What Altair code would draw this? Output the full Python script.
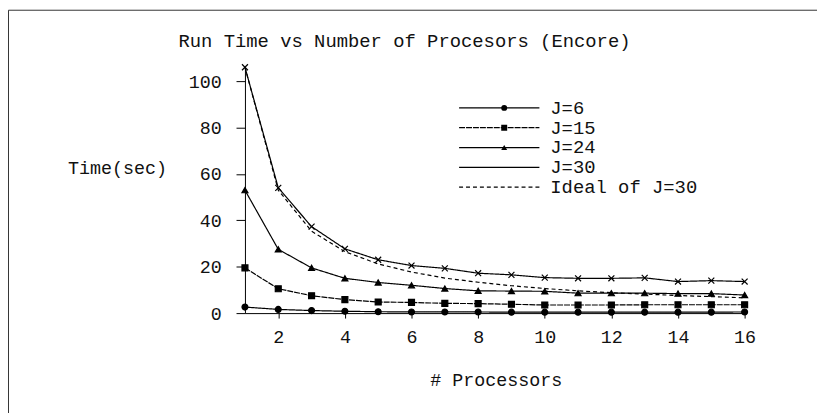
import altair as alt
import pandas as pd

# ---- data ----
processors = list(range(1, 17))
series_names = ["J=6", "J=15", "J=24", "J=30", "Ideal of J=30"]
j6 = [2.6, 1.6, 1.1, 0.8, 0.6, 0.5, 0.5, 0.5, 0.4, 0.4, 0.4, 0.4, 0.4, 0.4, 0.4, 0.5]
j15 = [19.5, 10.5, 7.5, 5.8, 4.8, 4.6, 4.2, 4.1, 3.8, 3.5, 3.5, 3.5, 3.6, 3.6, 3.6, 3.6]
j24 = [53.0, 27.5, 19.5, 15.0, 13.2, 12.0, 10.6, 9.6, 9.5, 9.4, 8.6, 8.6, 8.6, 8.4, 8.4, 7.8]
j30 = [106.0, 54.0, 37.3, 27.7, 23.0, 20.5, 19.3, 17.2, 16.5, 15.3, 15.0, 15.0, 15.2, 13.6, 14.0, 13.6]
ideal30 = [106.0, 53.0, 35.3, 26.5, 21.2, 17.7, 15.1, 13.3, 11.8, 10.6, 9.6, 8.8, 8.2, 7.6, 7.1, 6.6]
x_ticks = [2, 4, 6, 8, 10, 12, 14, 16]
y_ticks = [0, 20, 40, 60, 80, 100]

rows = []
for name, vals in zip(series_names, [j6, j15, j24, j30, ideal30]):
    for p, v in zip(processors, vals):
        rows.append({"p": p, "t": v, "series": name, "marker": name})
df = pd.DataFrame(rows)

FONT = "Liberation Mono"
INK = "#111111"

x_enc = alt.X(
    "p:Q",
    scale=alt.Scale(domain=[1, 16], nice=False, zero=False),
    axis=alt.Axis(
        values=x_ticks, title="# Processors", grid=False,
        tickSize=5, labelPadding=10, labelFlush=False,
        titleX=253, titleY=67, titleAnchor="middle", titleAlign="center",
        titleBaseline="middle",
    ),
)
y_enc = alt.Y(
    "t:Q",
    scale=alt.Scale(domain=[0, 106], nice=False),
    axis=alt.Axis(
        values=y_ticks, title="Time(sec)", grid=False,
        tickSize=9, labelPadding=15, labelFlush=False,
        titleAngle=0, titleX=-179, titleY=101, titleAlign="left",
        titleBaseline="middle",
    ),
)

dash_scale = alt.Scale(
    domain=series_names,
    range=[[1, 0], [6, 1], [1, 0], [1, 0], [4, 3]],
)
shape_scale = alt.Scale(
    domain=series_names[:4],
    range=["circle", "square", "triangle-up", "M-1,-1L1,1M-1,1L1,-1"],
)

lines = alt.Chart(df).mark_line(color="black", strokeWidth=1.2).encode(
    x=x_enc,
    y=y_enc,
    strokeDash=alt.StrokeDash(
        "series:N", scale=dash_scale,
        legend=alt.Legend(
            title=None, orient="none", legendX=215, legendY=31,
            symbolType="stroke", symbolSize=6561, symbolStrokeWidth=1.2,
            symbolStrokeColor="black", clipHeight=20, rowPadding=0,
            labelOffset=10, labelFont=FONT, labelFontSize=19,
            labelColor=INK, padding=0,
        ),
    ),
)

points = (
    alt.Chart(df)
    .transform_filter(alt.datum.series != "Ideal of J=30")
    .mark_point(filled=True, color="black", stroke="black", strokeWidth=1.2,
                size=36, opacity=1)
    .encode(
        x=x_enc,
        y=y_enc,
        shape=alt.Shape(
            "marker:N", scale=shape_scale,
            legend=alt.Legend(
                title=None, orient="none", legendX=252, legendY=31,
                symbolSize=36, symbolFillColor="black",
                symbolStrokeColor="black", symbolStrokeWidth=1.2,
                clipHeight=20, rowPadding=0, labelOffset=0,
                labelExpr="''", labelFontSize=19, padding=0,
            ),
        ),
    )
)

# outer frame of the figure (top and left edges visible in the reference)
frame = alt.Chart(pd.DataFrame({"f": [0]})).mark_rect(
    fill=None, stroke="#333333", strokeWidth=1
).encode(
    x=alt.value(-238.5), x2=alt.value(2000),
    y=alt.value(-57.5), y2=alt.value(2000),
)

chart = (
    alt.layer(lines, points, frame)
    .properties(
        width=504,
        height=248,
        title=alt.TitleParams(
            "Run Time vs Number of Procesors (Encore)",
            anchor="start", frame="group", dx=-67, offset=16, dy=58,
            font=FONT, fontSize=19, fontWeight="normal", color=INK,
        ),
        autosize=alt.AutoSizeParams(type="none"),
        padding={"left": 239, "top": 58, "right": 73, "bottom": 99},
    )
    .configure_view(stroke=None)
    .configure_axis(
        domainColor="black", domainWidth=1, tickColor="black", tickWidth=1,
        labelFont=FONT, labelFontSize=18.5, labelColor=INK,
        titleFont=FONT, titleFontSize=18.5, titleFontWeight="normal",
        titleColor=INK,
    )
)

chart.save("out.html", embed_options={"renderer": "svg", "actions": False})
